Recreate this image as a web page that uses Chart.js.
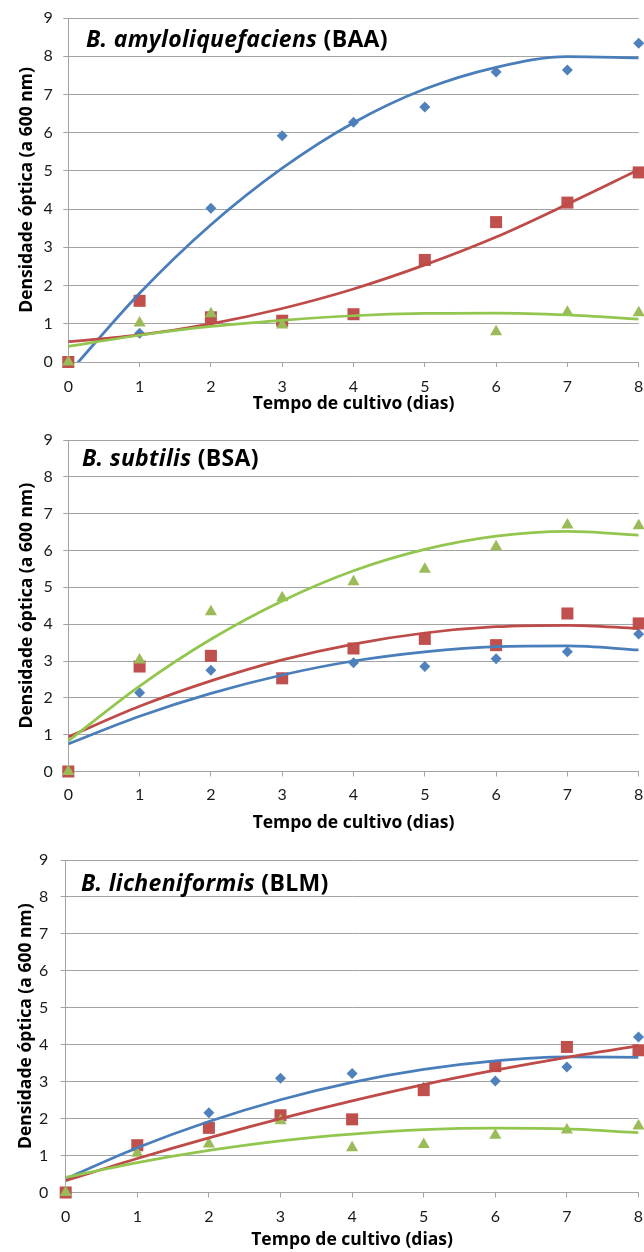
<!DOCTYPE html>
<html lang="pt">
<head>
<meta charset="utf-8">
<title>Densidade óptica – culturas de Bacillus</title>
<script src="https://cdn.jsdelivr.net/npm/chart.js@4.4.1/dist/chart.umd.min.js"></script>
<style>
  html, body { margin: 0; padding: 0; background: #fff; }
  body { position: relative; width: 644px; height: 1252px; overflow: hidden; font-family: Lato, "Open Sans", sans-serif; }
  .panel { position: absolute; left: 0; width: 644px; }
  .panel canvas { position: absolute; left: 0; top: 0; }
  .species { position: absolute; font-family: "Open Sans", sans-serif; font-weight: 700; font-size: 23px; line-height: 23px; letter-spacing: 0.3px; color: #000; white-space: nowrap; }
</style>
</head>
<body>
<div class="panel" style="top:0px;height:420px"><canvas id="chartBAA" width="644" height="420"></canvas></div>
<div class="panel" style="top:420px;height:420px"><canvas id="chartBSA" width="644" height="420"></canvas></div>
<div class="panel" style="top:840px;height:412px"><canvas id="chartBLM" width="644" height="412"></canvas></div>
<div class="species" style="left:86px;top:27px"><i>B. amyloliquefaciens</i> (BAA)</div>
<div class="species" style="left:82px;top:446px"><i>B. subtilis</i> (BSA)</div>
<div class="species" style="left:81px;top:871px"><i>B. licheniformis</i> (BLM)</div>

<script>
// Culture time (days) and axis ticks
const days = [0, 1, 2, 3, 4, 5, 6, 7, 8];
const xTicks = [0, 1, 2, 3, 4, 5, 6, 7, 8];
const yTicks = [0, 1, 2, 3, 4, 5, 6, 7, 8, 9];

// B. amyloliquefaciens (BAA): optical density at 600 nm
const baaDiamond  = [0, 0.75, 4.02, 5.92, 6.27, 6.67, 7.59, 7.64, 8.34];
const baaSquare   = [0, 1.60, 1.17, 1.08, 1.25, 2.67, 3.66, 4.17, 4.96];
const baaTriangle = [0, 1.02, 1.26, 0.97, null, null, 0.79, 1.30, 1.29];
// polynomial trendlines (2nd order) at each day
const baaDiamondTrend  = [-0.30, 1.80, 3.59, 5.07, 6.26, 7.14, 7.71, 7.99, 7.96];
const baaSquareTrend   = [0.53, 0.71, 1.00, 1.40, 1.91, 2.54, 3.27, 4.13, 5.03];
const baaTriangleTrend = [0.41, 0.70, 0.93, 1.09, 1.21, 1.27, 1.28, 1.23, 1.12];

// B. subtilis (BSA)
const bsaDiamond  = [0, 2.14, 2.75, 2.55, 2.95, 2.85, 3.06, 3.25, 3.73];
const bsaSquare   = [0, 2.85, 3.14, 2.53, 3.34, 3.60, 3.43, 4.29, 4.02];
const bsaTriangle = [0, 3.03, 4.34, 4.72, 5.15, 5.49, 6.10, 6.69, 6.67];
const bsaDiamondTrend  = [0.75, 1.50, 2.12, 2.62, 3.00, 3.25, 3.39, 3.41, 3.30];
const bsaSquareTrend   = [0.94, 1.77, 2.46, 3.03, 3.46, 3.76, 3.93, 3.97, 3.88];
const bsaTriangleTrend = [0.83, 2.32, 3.59, 4.63, 5.45, 6.03, 6.39, 6.52, 6.42];

// B. licheniformis (BLM)
const blmDiamond  = [0, 1.28, 2.16, 3.09, 3.22, 2.84, 3.02, 3.40, 4.21];
const blmSquare   = [0, 1.28, 1.75, 2.09, 1.98, 2.77, 3.42, 3.94, 3.85];
const blmTriangle = [0, 1.06, 1.31, 1.94, 1.21, 1.30, 1.55, 1.69, 1.80];
const blmDiamondTrend  = [0.37, 1.21, 1.92, 2.51, 2.98, 3.33, 3.56, 3.67, 3.66];
const blmSquareTrend   = [0.32, 0.92, 1.48, 2.00, 2.48, 2.92, 3.31, 3.66, 3.97];
const blmTriangleTrend = [0.41, 0.81, 1.14, 1.40, 1.58, 1.70, 1.74, 1.72, 1.62];

const BLUE = '#4F81BD', RED = '#C0504D', GREEN = '#9BBB59';
const BLUE_LINE = '#4A7EBB', RED_LINE = '#BE4B48', GREEN_LINE = '#92C64E';
const GRID = '#A3A3A3';
const TEXT = '#1a1a1a';
const TICK_FONT = 'Lato';
const TITLE_FONT = 'Open Sans';

const pairs = values => days.map((d, i) => ({ x: d, y: values[i] }));

function markers(values, style, radius, color, order) {
  return {
    type: 'scatter', data: pairs(values), pointStyle: style, pointRadius: radius,
    backgroundColor: color, borderColor: color, borderWidth: 0, order, clip: false
  };
}
function trend(values, color, order) {
  return {
    type: 'line', data: pairs(values), borderColor: color, borderWidth: 2.75,
    pointRadius: 0, fill: false, cubicInterpolationMode: 'monotone',
    capBezierPoints: false, order
  };
}

function drawPanel(id, series, g) {
  const canvas = document.getElementById(id);
  new Chart(canvas, {
    type: 'scatter',
    data: {
      datasets: [
        markers(series.diamond, 'rectRot', 5.5, BLUE, 6),
        markers(series.square, 'rect', 8.5, RED, 5),
        markers(series.triangle, 'triangle', 7, GREEN, 4),
        trend(series.diamondTrend, BLUE_LINE, 3),
        trend(series.squareTrend, RED_LINE, 2),
        trend(series.triangleTrend, GREEN_LINE, 1)
      ]
    },
    options: {
      responsive: false, animation: false, events: [],
      layout: { autoPadding: false, padding: { top: g.top, right: g.right, left: 0, bottom: 0 } },
      plugins: { legend: { display: false }, tooltip: { enabled: false } },
      scales: {
        x: {
          type: 'linear', min: 0, max: 8,
          afterBuildTicks: s => { s.ticks = xTicks.map(v => ({ value: v })); },
          afterFit: s => { s.height = g.xHeight; s.paddingLeft = 0; s.paddingRight = 0; },
          ticks: { color: TEXT, font: { family: TICK_FONT, size: 16 }, padding: g.xPad, maxRotation: 0, autoSkip: false },
          grid: { drawOnChartArea: false, drawTicks: true, tickLength: 5, color: GRID, tickColor: GRID },
          border: { color: GRID, width: 1 },
          title: { display: true, text: 'Tempo de cultivo (dias)', color: '#000',
                   font: { family: TITLE_FONT, size: 17.5, weight: 'bold' }, padding: { top: 0, bottom: g.xTitlePad } }
        },
        y: {
          type: 'linear', min: 0, max: 9,
          afterBuildTicks: s => { s.ticks = yTicks.map(v => ({ value: v })); },
          afterFit: s => { s.width = g.left; s.paddingTop = 0; s.paddingBottom = 0; },
          ticks: { color: TEXT, font: { family: TICK_FONT, size: 16 }, padding: g.yPad },
          grid: { color: GRID, tickColor: GRID, tickLength: 5, lineWidth: 1 },
          border: { color: GRID, width: 1 },
          title: { display: true, text: 'Densidade óptica (a 600 nm)', color: '#000',
                   font: { family: TITLE_FONT, size: 17.5, weight: 'bold' }, padding: { top: g.yTitlePad, bottom: 0 } }
        }
      }
    }
  });
}

drawPanel('chartBAA', {
  diamond: baaDiamond, square: baaSquare, triangle: baaTriangle,
  diamondTrend: baaDiamondTrend, squareTrend: baaSquareTrend, triangleTrend: baaTriangleTrend
}, { top: 18, right: 5.3, left: 68.3, xHeight: 58, xPad: 10, xTitlePad: 5.5, yPad: 10.6, yTitlePad: 17 });

drawPanel('chartBSA', {
  diamond: bsaDiamond, square: bsaSquare, triangle: bsaTriangle,
  diamondTrend: bsaDiamondTrend, squareTrend: bsaSquareTrend, triangleTrend: bsaTriangleTrend
}, { top: 20, right: 5.3, left: 68.3, xHeight: 68.5, xPad: 8.5, xTitlePad: 6.5, yPad: 10.6, yTitlePad: 17 });

drawPanel('chartBLM', {
  diamond: blmDiamond, square: blmSquare, triangle: blmTriangle,
  diamondTrend: blmDiamondTrend, squareTrend: blmSquareTrend, triangleTrend: blmTriangleTrend
}, { top: 20, right: 5.5, left: 65.7, xHeight: 59.5, xPad: 9.5, xTitlePad: 1, yPad: 12.4, yTitlePad: 16 });
</script>
</body>
</html>
